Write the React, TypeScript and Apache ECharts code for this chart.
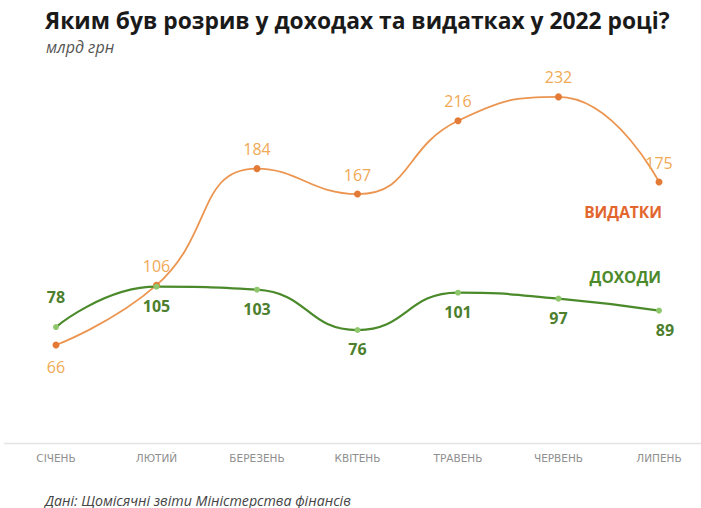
import React, { useEffect, useRef } from "react";
import * as echarts from "echarts";

const months = ["СІЧЕНЬ", "ЛЮТИЙ", "БЕРЕЗЕНЬ", "КВІТЕНЬ", "ТРАВЕНЬ", "ЧЕРВЕНЬ", "ЛИПЕНЬ"];
const expenses = [66, 106, 184, 167, 216, 232, 175];
const incomes = [78, 105, 103, 76, 101, 97, 89];
const expenseLabelPos = ["bottom", "top", "top", "top", "top", "top", "top"];
const incomeLabelPos = ["top", "bottom", "bottom", "bottom", "bottom", "bottom", "bottom"];

const FONT = "Open Sans";

export default function App() {
  const ref = useRef<HTMLDivElement>(null);
  useEffect(() => {
    const chart = echarts.init(ref.current!, null, { renderer: "svg" });
    chart.setOption({
      animation: false,
      backgroundColor: "#ffffff",
      grid: { left: 56, right: 42, top: 70, bottom: 64.4 },
      xAxis: {
        type: "category",
        data: months,
        boundaryGap: false,
        axisLine: { show: false },
        axisTick: { show: false },
        splitLine: { show: false },
        axisLabel: { fontFamily: "DejaVu Sans", fontSize: 10.5, color: "#8f8f8f", margin: 9 },
      },
      yAxis: { type: "value", min: 0, max: 250, show: false, splitLine: { show: false } },
      graphic: [
        {
          type: "text",
          left: 45,
          top: 9,
          style: {
            text: "Яким був розрив у доходах та видатках у 2022 році?",
            fontFamily: FONT,
            fontWeight: "bold",
            fontSize: 22.8,
            fill: "#1a1a1a",
          },
        },
        {
          type: "text",
          left: 46,
          top: 39,
          style: { text: "млрд грн", fontFamily: FONT, fontStyle: "italic", fontSize: 16, fill: "#555" },
        },
        {
          type: "text",
          left: 45,
          top: 493,
          style: {
            text: "Дані: Щомісячні звіти Міністерства фінансів",
            fontFamily: FONT,
            fontStyle: "italic",
            fontSize: 14.2,
            fill: "#444",
          },
        },
        {
          type: "line",
          shape: { x1: 4, y1: 443.6, x2: 701, y2: 443.6 },
          style: { stroke: "#e4e4e4", lineWidth: 1.5 },
          z: -1,
        },
        {
          type: "text",
          right: 39,
          top: 204,
          style: { text: "ВИДАТКИ", fontFamily: FONT, fontWeight: "bold", fontSize: 15.5, fill: "#e2662e" },
        },
        {
          type: "text",
          right: 40,
          top: 269,
          style: { text: "ДОХОДИ", fontFamily: FONT, fontWeight: "bold", fontSize: 15.5, fill: "#4d8a2c" },
        },
      ],
      series: [
        {
          name: "Видатки",
          type: "line",
          smooth: 0.5,
          data: expenses.map((v, i) => ({
            value: v,
            label: { position: expenseLabelPos[i], distance: i === 0 ? 11 : 8 },
          })),
          symbol: "circle",
          symbolSize: 7,
          lineStyle: { color: "#ec9550", width: 1.8 },
          itemStyle: { color: "#e37a36" },
          label: { show: true, fontFamily: FONT, fontSize: 16, color: "#f0a955" },
        },
        {
          name: "Доходи",
          type: "line",
          smooth: 0.5,
          data: incomes.map((v, i) => ({
            value: v,
            label: { position: incomeLabelPos[i], distance: i === 0 ? 19 : 8, offset: i === 6 ? [6, 0] : [0, 0] },
          })),
          symbol: "circle",
          symbolSize: 6,
          lineStyle: { color: "#4a8a2a", width: 2.2 },
          itemStyle: { color: "#8fc76c" },
          label: { show: true, fontFamily: FONT, fontWeight: "bold", fontSize: 16, color: "#4d7f2e" },
        },
      ],
    });
    return () => chart.dispose();
  }, []);
  return <div ref={ref} style={{ width: 701, height: 508, position: "absolute", left: 0, top: 0 }} />;
}
